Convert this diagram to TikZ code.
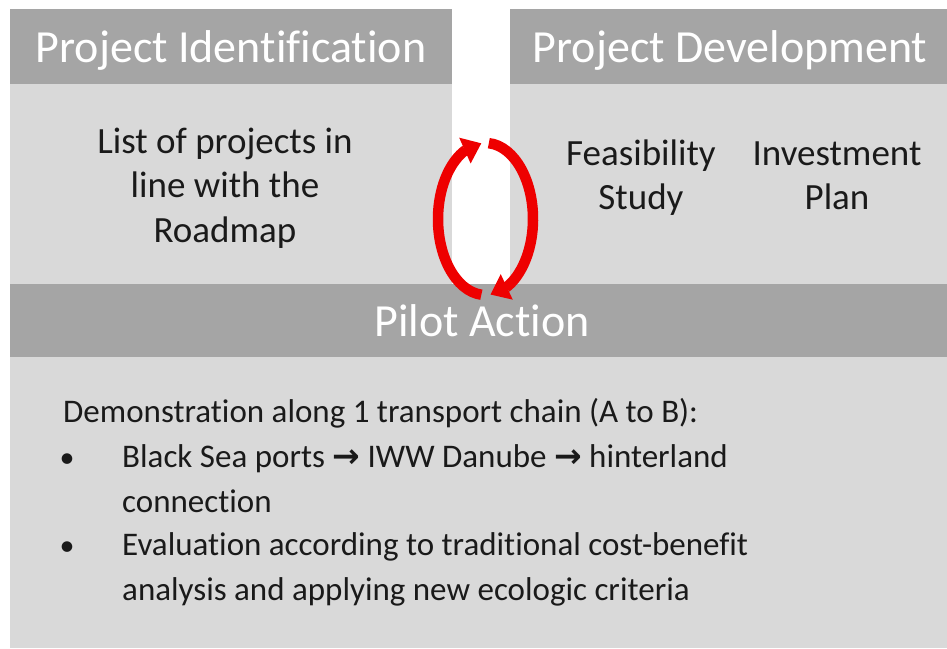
\documentclass[tikz,border=0pt]{standalone}
\usepackage{fontspec}
\setmainfont{Carlito}[Ligatures={NoCommon}, RawFeature={-liga;-clig;-calt;-dlig}]
\newfontfamily\dvfont{DejaVu Sans}
\usetikzlibrary{arrows.meta,bending}
\definecolor{hdrgray}{HTML}{A5A5A5}
\definecolor{bodygray}{HTML}{D9D9D9}
\definecolor{txtcol}{HTML}{1A1A1A}
\definecolor{arrowred}{HTML}{EE0000}
\begin{document}
\begin{tikzpicture}[x=1pt,y=1pt,
  boxbase/.style={draw=none, anchor=north west, inner sep=0pt, outer sep=0pt},
  hdrbox/.style={boxbase, fill=hdrgray},
  bodybox/.style={boxbase, fill=bodygray},
  hdrtext/.style={anchor=base, inner sep=0pt, text=white, font=\fontsize{46}{50}\selectfont},
  celltext/.style={anchor=base, inner sep=0pt, text=txtcol, font=\fontsize{37}{44}\selectfont},
  listtext/.style={anchor=base west, inner sep=0pt, text=txtcol, font=\fontsize{33}{40}\selectfont},
  bullettext/.style={anchor=base, inner sep=0pt, text=txtcol, font=\fontsize{30}{40}\selectfont},
  cycarrow/.style={draw=arrowred, line width=10.5pt, -{Triangle[width=27pt,length=18pt]}}
]
\useasboundingbox[fill=white] (0,0) rectangle (947,-648);

% boxes
\node[hdrbox, minimum width=442pt, minimum height=75pt] (h1) at (10,-9) {};
\node[bodybox, minimum width=442pt, minimum height=200pt] (b1) at (10,-84) {};
\node[hdrbox, minimum width=437pt, minimum height=75pt] (h2) at (510,-9) {};
\node[bodybox, minimum width=437pt, minimum height=200pt] (b2) at (510,-84) {};
\node[hdrbox, minimum width=937pt, minimum height=73pt] (h3) at (10,-284) {};
\node[bodybox, minimum width=937pt, minimum height=291pt] (b3) at (10,-357) {};

% headers
\node[hdrtext] (h1t) at (231,-62) {Project Identification};
\node[hdrtext] (h2t) at (730,-62) {Project Development};
\node[hdrtext] (h3t) at (482,-336) {Pilot Action};

% upper cells
\node[celltext] (l1) at (225,-153) {List of projects in};
\node[celltext] (l2) at (225,-197) {line with the};
\node[celltext] (l3) at (225,-242) {Roadmap};
\node[celltext] (f1) at (641,-165) {Feasibility};
\node[celltext] (f2) at (641,-209) {Study};
\node[celltext] (i1) at (837,-165) {Investment};
\node[celltext] (i2) at (837,-209) {Plan};

% lower body
\node[listtext] (d0) at (63,-422) {Demonstration along 1 transport chain (A to B):};
\node[bullettext] (bu1) at (67,-467) {•};
\node[listtext] (d1) at (122,-467) {Black Sea ports {\dvfont\bfseries →} IWW Danube {\dvfont\bfseries →} hinterland};
\node[listtext] (d2) at (122,-512) {connection};
\node[bullettext] (bu2) at (67,-555) {•};
\node[listtext] (d3) at (122,-555) {Evaluation according to traditional cost-benefit};
\node[listtext] (d4) at (122,-600) {analysis and applying new ecologic criteria};

% cycle arrows
\coordinate (cyc) at (485.5,-219);
\draw[cycarrow] (cyc) ++(265:47.5 and 76) arc[start angle=265, end angle=95, x radius=47.5, y radius=76];
\draw[cycarrow] (cyc) ++(86:47.5 and 76) arc[start angle=86, end angle=-84, x radius=47.5, y radius=76];
\end{tikzpicture}
\end{document}
